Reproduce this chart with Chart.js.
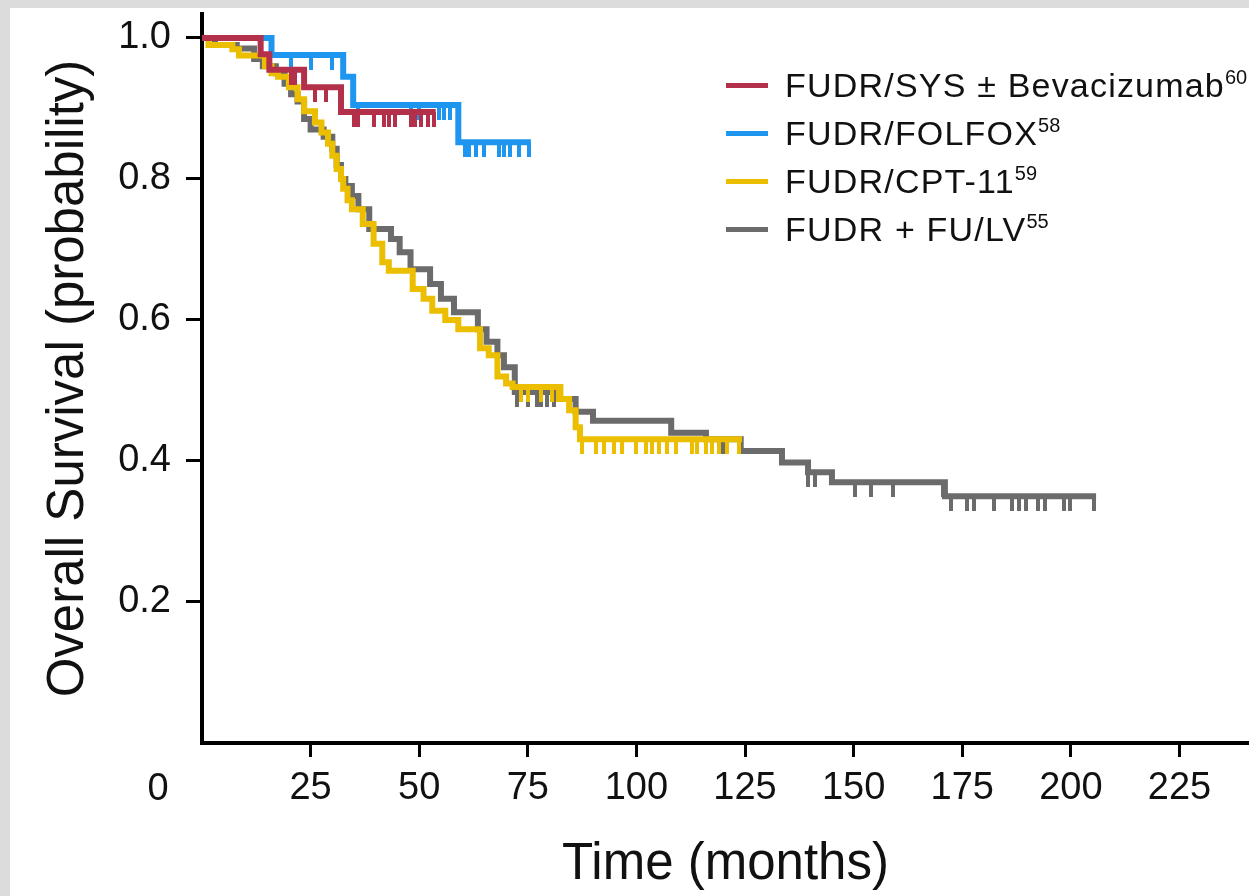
<!DOCTYPE html>
<html>
<head>
<meta charset="utf-8">
<title>Overall Survival</title>
<script src="https://cdn.jsdelivr.net/npm/chart.js@4.4.1/dist/chart.umd.min.js"></script>
<style>
  html, body { margin: 0; padding: 0; width: 1249px; height: 896px; overflow: hidden; background: #dcdcdc; }
  #wrap { position: absolute; left: 10px; top: 8px; width: 1239px; height: 888px; background: #fff; }
  #legend { position: absolute; left: 716px; top: 53px; font-family: "Liberation Sans", Arial, sans-serif;
            font-size: 34px; color: #111; letter-spacing: 1.2px; }
  #legend .row { height: 48px; display: flex; align-items: center; white-space: nowrap; }
  #legend .swatch { width: 42px; height: 5px; margin-right: 17px; }
  #legend sup { font-size: 20px; line-height: 0; vertical-align: 13px; letter-spacing: 0; }
</style>
</head>
<body>
<div id="wrap">
  <canvas id="kmChart"></canvas>
  <div id="legend"></div>
</div>
<script>
// series names, reference numbers and colours
const seriesLabels = ['FUDR/SYS ± Bevacizumab', 'FUDR/FOLFOX', 'FUDR/CPT-11', 'FUDR + FU/LV'];
const seriesRefs = ['60', '58', '59', '55'];
const seriesColors = ['#b3304b', '#1e96f0', '#ebbe00', '#6b6b6b'];

// FUDR/SYS ± Bevacizumab: event times (months) and survival after each step
const sysTimes = [0, 13.5, 15.5, 23.5, 32, 53.8];
const sysSurv  = [1.0, 0.977, 0.955, 0.93, 0.895, 0.895];
const sysCensor = [20.5, 21.5, 26, 28.5, 35, 36, 39.5, 42, 43, 44.5, 48, 49, 50.5, 52, 53.5];

// FUDR/FOLFOX
const folfoxTimes = [0, 16, 32.5, 34.8, 59, 75.7];
const folfoxSurv  = [1.0, 0.976, 0.945, 0.905, 0.852, 0.852];
const folfoxCensor = [20.5, 25, 30, 36, 48, 50, 54.5, 55.7, 57, 60.5, 61.5, 63, 65, 68.3, 69.5, 71, 73, 75.2];

// FUDR/CPT-11
const cptTimes = [0, 1.5, 7, 8.5, 14.5, 16, 17.5, 20, 22, 23.5, 26, 27.5, 29, 30, 31, 32, 32.5, 33.5,
                  34.5, 37, 39.5, 41.5, 43, 48.5, 51, 53, 56, 59, 64, 66, 68, 70, 71.5, 82.5, 84.5, 86, 87, 124.3];
const cptSurv  = [1.0, 0.99, 0.984, 0.975, 0.96, 0.95, 0.945, 0.93, 0.913, 0.896, 0.88, 0.866, 0.85, 0.833,
                  0.814, 0.8, 0.786, 0.77, 0.757, 0.736, 0.708, 0.682, 0.67, 0.644, 0.63, 0.613, 0.6, 0.587,
                  0.56, 0.55, 0.52, 0.51, 0.505, 0.488, 0.472, 0.448, 0.431, 0.431];
const cptCensor = [73.5, 75, 78, 80.5, 82, 87.5, 90.7, 92.5, 94.8, 96.7, 100, 102.2, 103.6, 105.2, 107, 109,
                   112.8, 113.9, 116, 117.4, 119, 120.9, 123.6];

// FUDR + FU/LV
const fulvTimes = [0, 3, 8, 12, 14, 17, 19, 20.5, 22, 23.5, 25, 28, 30, 31, 32, 33, 34.5, 36, 38.5, 43.5,
                   45.5, 48, 52.5, 55, 58, 63.5, 65.5, 68, 69.5, 72, 81.3, 86, 90, 108, 116, 124, 133.5,
                   139.5, 145, 171, 205.8];
const fulvSurv  = [1.0, 0.99, 0.985, 0.97, 0.96, 0.95, 0.935, 0.92, 0.91, 0.885, 0.87, 0.86, 0.843, 0.82,
                   0.8, 0.79, 0.776, 0.757, 0.729, 0.715, 0.696, 0.672, 0.651, 0.63, 0.611, 0.587, 0.569,
                   0.55, 0.533, 0.498, 0.488, 0.47, 0.457, 0.44, 0.431, 0.414, 0.398, 0.384, 0.37, 0.35, 0.35];
const fulvCensor = [72.5, 75, 77, 78, 79.5, 81, 119, 120, 139.5, 141, 150.4, 154, 159, 170.5, 172.5, 176,
                    177.8, 182.4, 186.5, 188, 189.7, 192.5, 194, 198.5, 199.7, 205.4];

// axis ticks
const xTickValues = [0, 25, 50, 75, 100, 125, 150, 175, 200, 225];
const yTickValues = [0, 0.2, 0.4, 0.6, 0.8, 1.0];

const allTimes = [sysTimes, folfoxTimes, cptTimes, fulvTimes];
const allSurv = [sysSurv, folfoxSurv, cptSurv, fulvSurv];
const allCensor = [sysCensor, folfoxCensor, cptCensor, fulvCensor];

// survival value of a step curve at time t
function survAt(times, surv, t) {
    let s = surv[0];
    for (let i = 0; i < times.length; i++) {
        if (times[i] <= t) s = surv[i];
    }
    return s;
}

// censor mark: short vertical dash hanging below the curve
function censorMark(color) {
    const c = document.createElement('canvas');
    c.width = 4;
    c.height = 30;
    const g = c.getContext('2d');
    g.fillStyle = color;
    g.fillRect(0, 15, 4, 15);
    return c;
}

const datasets = [];
seriesLabels.forEach((label, i) => {
    datasets.push({
        type: 'line',
        label: label,
        data: allTimes[i].map((t, k) => ({ x: t, y: allSurv[i][k] })),
        borderColor: seriesColors[i],
        borderWidth: 6,
        stepped: 'before',
        pointRadius: 0,
        fill: false,
        order: i
    });
});
seriesLabels.forEach((label, i) => {
    datasets.push({
        type: 'scatter',
        label: label + ' censored',
        data: allCensor[i].map(t => ({ x: t, y: survAt(allTimes[i], allSurv[i], t) })),
        pointStyle: censorMark(seriesColors[i]),
        pointRadius: 6,
        showLine: false,
        order: i
    });
});

const fontFamily = '"Liberation Sans", Arial, sans-serif';

// draws the shared origin label "0" left of the corner
const originLabel = {
    id: 'originLabel',
    afterDraw(chart) {
        const ctx = chart.ctx;
        const xs = chart.scales.x;
        ctx.save();
        ctx.font = '38px ' + fontFamily;
        ctx.fillStyle = '#111';
        ctx.textAlign = 'center';
        ctx.textBaseline = 'middle';
        ctx.fillText('0', xs.getPixelForValue(0) - 44, chart.chartArea.bottom + 47);
        ctx.restore();
    }
};

const ctx = document.getElementById('kmChart').getContext('2d');
new Chart(ctx, {
    data: { datasets: datasets },
    options: {
        responsive: true,
        maintainAspectRatio: false,
        animation: false,
        layout: { autoPadding: false, padding: { top: 6, right: 0, left: 0, bottom: 0 } },
        plugins: {
            legend: { display: false },
            tooltip: { enabled: false }
        },
        scales: {
            x: {
                type: 'linear',
                min: 0,
                max: 241,
                afterBuildTicks: s => { s.ticks = xTickValues.map(v => ({ value: v })); },
                afterFit: s => { s.height = 153; s.paddingLeft = 0; s.paddingRight = 0; },
                border: { display: true, color: '#000', width: 4 },
                grid: {
                    drawOnChartArea: false,
                    drawTicks: true,
                    tickLength: 14,
                    tickWidth: 3,
                    tickColor: c => (c.tick && c.tick.value === 0 ? 'rgba(0,0,0,0)' : '#000')
                },
                ticks: {
                    autoSkip: false,
                    maxRotation: 0,
                    padding: 9,
                    color: '#111',
                    font: { family: fontFamily, size: 38 },
                    callback: v => (v === 0 ? '' : String(v))
                },
                title: {
                    display: true,
                    text: 'Time (months)',
                    color: '#111',
                    font: { family: fontFamily, size: 51 },
                    padding: { top: 0, bottom: 0 }
                }
            },
            y: {
                type: 'linear',
                min: 0,
                max: 1.034,
                afterBuildTicks: s => { s.ticks = yTickValues.map(v => ({ value: v })); },
                afterFit: s => { s.width = 192; s.paddingTop = 0; s.paddingBottom = 0; },
                border: { display: true, color: '#000', width: 4 },
                grid: {
                    drawOnChartArea: false,
                    drawTicks: true,
                    tickLength: 16,
                    tickWidth: 3,
                    tickColor: c => (c.tick && c.tick.value === 0 ? 'rgba(0,0,0,0)' : '#000')
                },
                ticks: {
                    padding: 15,
                    color: '#111',
                    font: { family: fontFamily, size: 38 },
                    callback: v => (v === 0 ? '' : v.toFixed(1))
                },
                title: {
                    display: true,
                    text: 'Overall Survival (probability)',
                    color: '#111',
                    font: { family: fontFamily, size: 51 },
                    padding: { top: 28, bottom: 0 }
                }
            }
        }
    },
    plugins: [originLabel]
});

// legend built from the series arrays
const legend = document.getElementById('legend');
seriesLabels.forEach((label, i) => {
    const row = document.createElement('div');
    row.className = 'row';
    const sw = document.createElement('div');
    sw.className = 'swatch';
    sw.style.background = seriesColors[i];
    const txt = document.createElement('span');
    txt.textContent = label;
    const sup = document.createElement('sup');
    sup.textContent = seriesRefs[i];
    txt.appendChild(sup);
    row.appendChild(sw);
    row.appendChild(txt);
    legend.appendChild(row);
});
</script>
</body>
</html>
